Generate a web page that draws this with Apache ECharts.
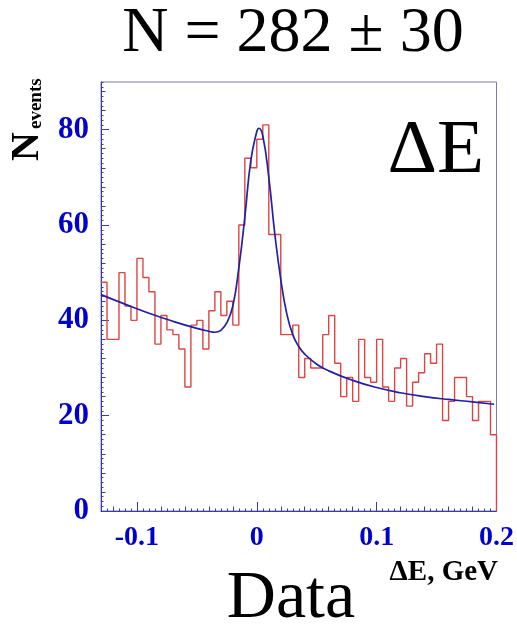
<!DOCTYPE html>
<html>
<head>
<meta charset="utf-8">
<title>ΔE distribution</title>
<script src="https://cdn.jsdelivr.net/npm/echarts@6/dist/echarts.min.js"></script>
<style>
  html, body { margin: 0; padding: 0; background: #ffffff; }
  #chart { width: 517px; height: 627px; }
</style>
</head>
<body>
<div id="chart"></div>
<script>
// Histogram of ΔE: 66 bins of 5 MeV starting at -0.13 GeV
const binStart = -0.13;
const binWidth = 0.005;
const binCounts = [
  48, 36, 36, 50, 43, 40, 53, 49, 46, 35,
  41, 38, 37, 34, 26, 39, 40, 34, 42, 46,
  41, 44, 39, 60, 74, 72, 78, 81, 58, 58,
  37, 37, 39, 28, 32, 30, 30, 37, 41, 31,
  24, 28, 23, 36, 28, 27, 36, 26, 23, 30,
  32, 22, 27, 29, 33, 31, 35, 19, 23, 28,
  28, 24, 19, 23, 23, 16
];

// Fitted curve (signal peak on a smooth background), sampled along ΔE
const fitX = [-0.13, -0.11, -0.09, -0.07, -0.05, -0.04, -0.035, -0.03, -0.025, -0.02,
              -0.015, -0.01, -0.005, 0, 0.0017, 0.005, 0.01, 0.015, 0.02, 0.025,
              0.03, 0.035, 0.04, 0.05, 0.06, 0.08, 0.10, 0.12, 0.14, 0.16, 0.18, 0.198];
const fitY = [45.4, 43.4, 41.5, 39.8, 38.3, 37.7, 37.5, 37.9, 39.5, 43.0,
              51.0, 61.6, 73.5, 79.6, 80.3, 78.7, 70.0, 58.2, 48.6, 41.4,
              37.0, 34.5, 32.9, 30.8, 29.4, 27.4, 25.9, 24.8, 24.0, 23.4, 22.9, 22.4];

// Axis ranges and tick labels
const xMin = -0.13, xMax = 0.2;
const yMin = 0, yMax = 90;
const xTickLabels = [-0.1, 0, 0.1, 0.2];
const yTickLabels = [0, 20, 40, 60, 80];

// Step outline of the histogram, dropping to zero at the upper edge
const histLine = [];
binCounts.forEach((c, i) => histLine.push([+(binStart + i * binWidth).toFixed(4), c]));
const histEnd = +(binStart + binCounts.length * binWidth).toFixed(4);
histLine.push([histEnd, binCounts[binCounts.length - 1]]);
histLine.push([histEnd, 0]);

const fitLine = fitX.map((x, i) => [x, fitY[i]]);

// Secondary / tertiary tick positions
function ticksBetween(lo, hi, step) {
  const out = [];
  const n = Math.round((hi - lo) / step);
  for (let i = 0; i <= n; i++) out.push(+(lo + i * step).toFixed(4));
  return out;
}
const xMidTicks = ticksBetween(-0.12, 0.2, 0.02);
const xMinorTicks = ticksBetween(-0.13, 0.2, 0.005);
const yMidTicks = ticksBetween(0, 88, 4);
const yMinorTicks = ticksBetween(0, 90, 1);

const axisBlue = '#3a3aa8';
const labelBlue = '#0000cc';
const serif = '"Liberation Serif", "Times New Roman", serif';

function tickAxis(dim, values, len, isMain) {
  return {
    type: 'value',
    min: dim === 'x' ? xMin : yMin,
    max: dim === 'x' ? xMax : yMax,
    position: dim === 'x' ? 'bottom' : 'left',
    splitLine: { show: false },
    axisLine: { show: !!isMain, onZero: false, lineStyle: { color: axisBlue, width: 1 } },
    axisTick: { show: true, inside: true, length: len, customValues: values,
                lineStyle: { color: axisBlue, width: 1 } },
    axisLabel: { show: false }
  };
}

const mainX = tickAxis('x', xTickLabels, 9, true);
mainX.axisLabel = {
  show: true, customValues: xTickLabels, margin: 13,
  color: labelBlue, fontFamily: serif, fontWeight: 'bold', fontSize: 28,
  formatter: v => (v === 0 ? '0' : String(+v.toFixed(1)))
};
const mainY = tickAxis('y', yTickLabels, 8, true);
mainY.axisLabel = {
  show: true, customValues: yTickLabels, margin: 12,
  color: labelBlue, fontFamily: serif, fontWeight: 'bold', fontSize: 31
};

const chart = echarts.init(document.getElementById('chart'), null, { renderer: 'canvas' });
chart.setOption({
  animation: false,
  backgroundColor: '#ffffff',
  grid: { left: 101, right: 17, top: 82, bottom: 116, show: true,
          borderColor: '#7a7ab0', borderWidth: 1, backgroundColor: 'transparent' },
  xAxis: [mainX, tickAxis('x', xMidTicks, 4.5), tickAxis('x', xMinorTicks, 2.5)],
  yAxis: [mainY, tickAxis('y', yMidTicks, 4.5), tickAxis('y', yMinorTicks, 2.5)],
  series: [
    {
      type: 'line', name: 'data', xAxisIndex: 0, yAxisIndex: 0,
      data: histLine, step: 'end', symbol: 'none',
      lineStyle: { color: '#dd4444', width: 1.4 }
    },
    {
      type: 'line', name: 'fit', xAxisIndex: 0, yAxisIndex: 0,
      data: fitLine, smooth: 0.5, symbol: 'none',
      lineStyle: { color: '#2020a8', width: 1.7 }
    }
  ],
  graphic: [
    { type: 'text', x: 293, y: 34,
      style: { text: 'N = 282 \u00b1 30', font: '64px ' + serif, fill: '#000',
               align: 'center', verticalAlign: 'middle' } },
    { type: 'text', x: 484, y: 152,
      style: { text: '\u0394E', font: '77px ' + serif, fill: '#000',
               align: 'right', verticalAlign: 'middle' } },
    { type: 'text', x: 291, y: 599,
      style: { text: 'Data', font: '68px ' + serif, fill: '#000',
               align: 'center', verticalAlign: 'middle' } },
    { type: 'text', x: 498, y: 573,
      style: { text: '\u0394E, GeV', font: 'bold 29px ' + serif, fill: '#000',
               align: 'right', verticalAlign: 'middle' } },
    { type: 'text', x: 28, y: 161, rotation: Math.PI / 2,
      style: { text: 'N', font: 'bold 40px ' + serif, fill: '#000',
               align: 'left', verticalAlign: 'middle' } },
    { type: 'text', x: 36, y: 129, rotation: Math.PI / 2,
      style: { text: 'events', font: 'bold 19px ' + serif, fill: '#000',
               align: 'left', verticalAlign: 'middle' } }
  ]
});
</script>
</body>
</html>
